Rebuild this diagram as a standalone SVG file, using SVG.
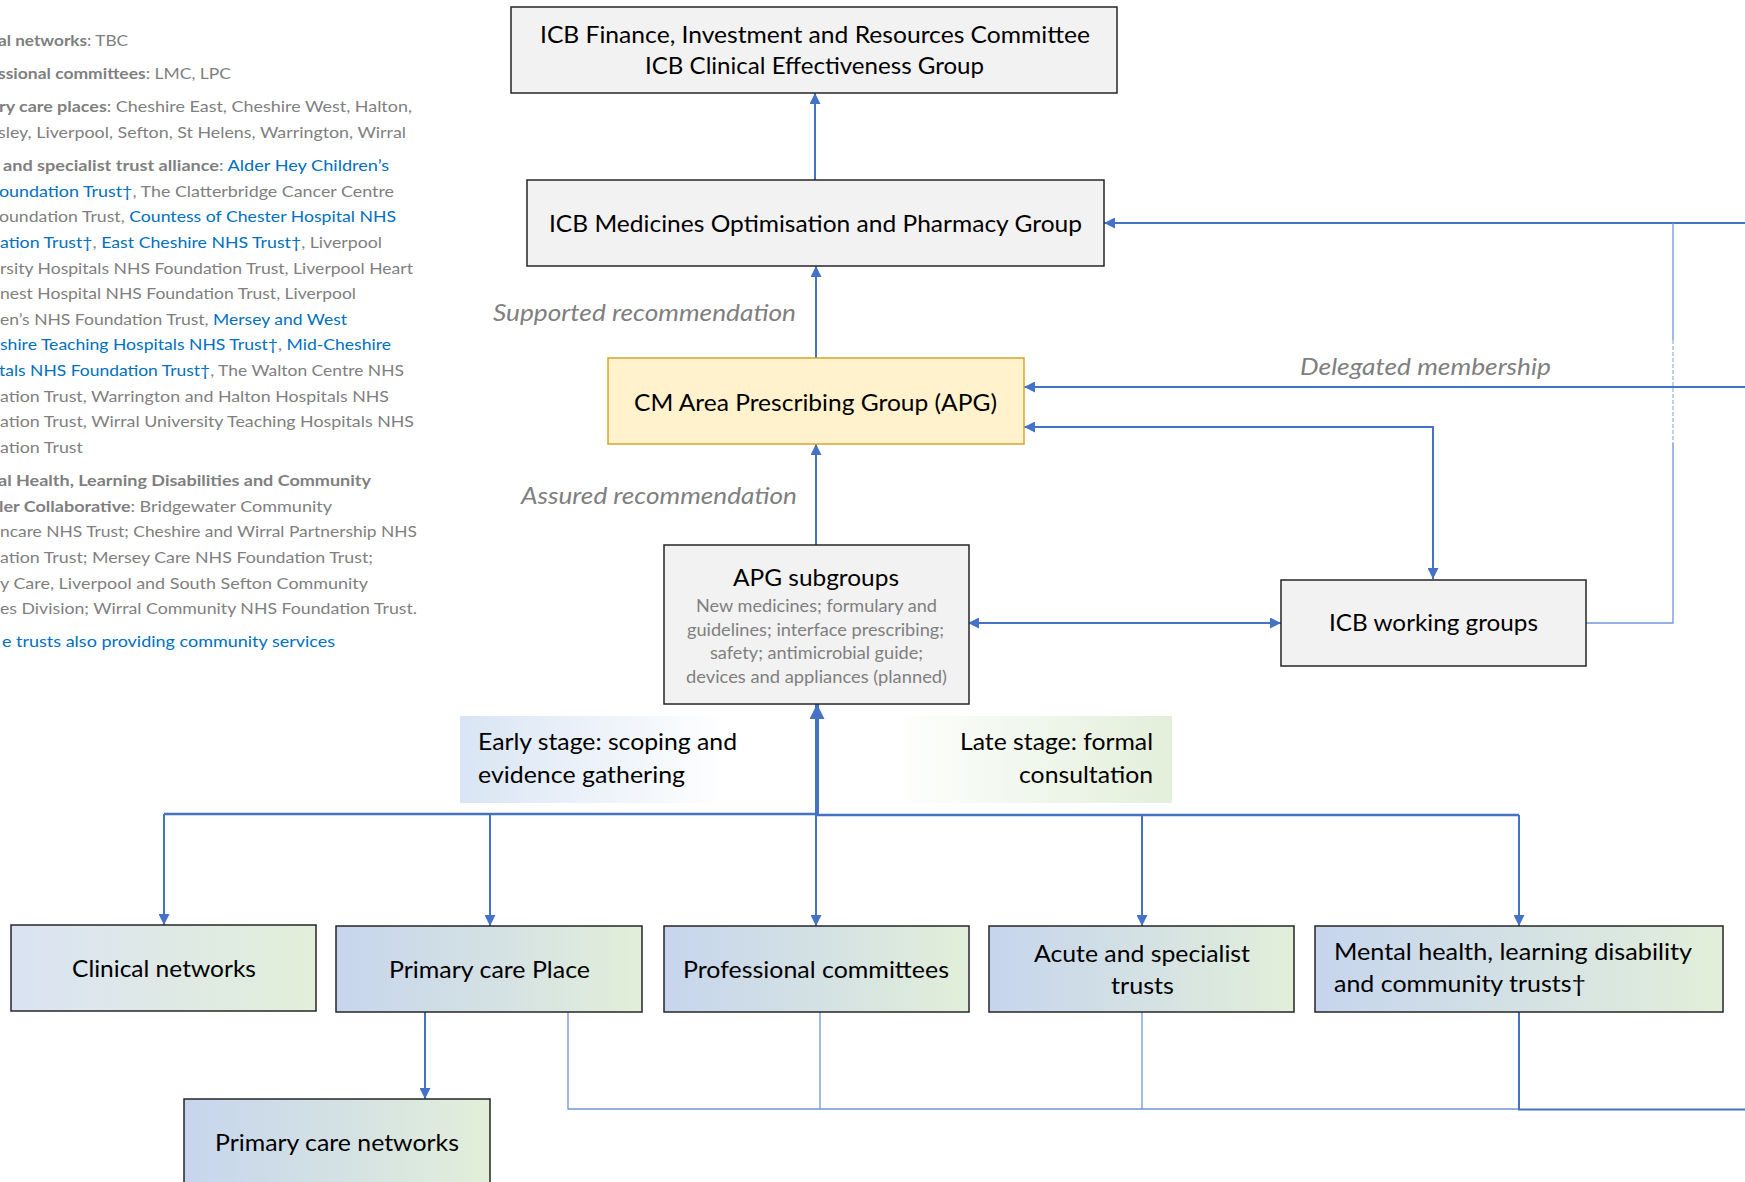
<svg xmlns="http://www.w3.org/2000/svg" width="1745" height="1182" viewBox="0 0 1745 1182">
<defs>
<style>
.lt{font-family:Lato,"Open Sans","Liberation Sans",sans-serif;font-size:16px;fill:#7f7f7f}
.b{font-weight:bold}
.bl{fill:#0070c0}
.nt{font-family:Lato,"Open Sans","Liberation Sans",sans-serif;font-size:24px;fill:#000}
.sub{font-family:Lato,"Open Sans","Liberation Sans",sans-serif;font-size:17px;fill:#7f7f7f}
.it{font-family:Lato,"Open Sans","Liberation Sans",sans-serif;font-size:24px;font-style:italic;fill:#7f7f7f}
.grey{fill:#f2f2f2;stroke:#262626;stroke-width:1.5}
.apg{fill:#fff2cc;stroke:#d6a72a;stroke-width:1.5}
.grad{fill:url(#gBG);stroke:#262626;stroke-width:1.5}
.gradL{fill:url(#gBGl);stroke:#262626;stroke-width:1.5}
.c{fill:none;stroke:#4472c4;stroke-width:2}
.ct{fill:none;stroke:#6f96d8;stroke-width:1.3}
.ck{fill:none;stroke:#4472c4;stroke-width:4}
.cb{fill:none;stroke:#4472c4;stroke-width:2.6}
</style>
<linearGradient id="gBG" x1="0" y1="0" x2="1" y2="0">
<stop offset="0" stop-color="#c6d5ed"/><stop offset="0.55" stop-color="#d5e2e3"/><stop offset="1" stop-color="#e2efd9"/>
</linearGradient>
<linearGradient id="gBGl" x1="0" y1="0" x2="1" y2="0">
<stop offset="0" stop-color="#dae3f3"/><stop offset="1" stop-color="#e2efd9"/>
</linearGradient>
<linearGradient id="gEarly" x1="0" y1="0" x2="1" y2="0">
<stop offset="0" stop-color="#d9e5f4"/><stop offset="0.75" stop-color="#ffffff"/>
</linearGradient>
<linearGradient id="gLate" x1="0" y1="0" x2="1" y2="0">
<stop offset="0.2" stop-color="#ffffff"/><stop offset="1" stop-color="#e2efda"/>
</linearGradient>
<marker id="arr" viewBox="0 0 10 10" refX="10" refY="5" markerUnits="userSpaceOnUse" markerWidth="12" markerHeight="11" orient="auto-start-reverse">
<path d="M0,0 L10,5 L0,10 z" fill="#4472c4"/>
</marker>
<marker id="arrB" viewBox="0 0 10 10" refX="10" refY="5" markerUnits="userSpaceOnUse" markerWidth="15" markerHeight="15" orient="auto">
<path d="M0,0 L10,5 L0,10 z" fill="#4472c4"/>
</marker>
</defs>
<rect width="1745" height="1182" fill="#ffffff"/>

<g id="legend">
<text class="lt" x="-2" y="46" textLength="130" lengthAdjust="spacingAndGlyphs"><tspan class="b">al networks</tspan>: TBC</text>
<text class="lt" x="-2" y="79" textLength="233" lengthAdjust="spacingAndGlyphs"><tspan class="b">ssional committees</tspan>: LMC, LPC</text>
<text class="lt" x="-1" y="112" textLength="413" lengthAdjust="spacingAndGlyphs"><tspan class="b">ry care places</tspan>: Cheshire East, Cheshire West, Halton,</text>
<text class="lt" x="-2" y="138" textLength="408" lengthAdjust="spacingAndGlyphs">sley, Liverpool, Sefton, St Helens, Warrington, Wirral</text>
<text class="lt" x="3" y="171" textLength="386" lengthAdjust="spacingAndGlyphs"><tspan class="b">and specialist trust alliance</tspan>: <tspan class="bl">Alder Hey Children’s</tspan></text>
<text class="lt" x="-1" y="197" textLength="395" lengthAdjust="spacingAndGlyphs"><tspan class="bl">oundation Trust†</tspan>, The Clatterbridge Cancer Centre</text>
<text class="lt" x="-1" y="222" textLength="397" lengthAdjust="spacingAndGlyphs">oundation Trust, <tspan class="bl">Countess of Chester Hospital NHS</tspan></text>
<text class="lt" x="0" y="248" textLength="382" lengthAdjust="spacingAndGlyphs"><tspan class="bl">ation Trust†</tspan>, <tspan class="bl">East Cheshire NHS Trust†</tspan>, Liverpool</text>
<text class="lt" x="0" y="274" textLength="413" lengthAdjust="spacingAndGlyphs">rsity Hospitals NHS Foundation Trust, Liverpool Heart</text>
<text class="lt" x="0" y="299" textLength="356" lengthAdjust="spacingAndGlyphs">nest Hospital NHS Foundation Trust, Liverpool</text>
<text class="lt" x="0" y="325" textLength="347" lengthAdjust="spacingAndGlyphs">en’s NHS Foundation Trust, <tspan class="bl">Mersey and West</tspan></text>
<text class="lt" x="0" y="350" textLength="391" lengthAdjust="spacingAndGlyphs"><tspan class="bl">shire Teaching Hospitals NHS Trust†</tspan>, <tspan class="bl">Mid-Cheshire</tspan></text>
<text class="lt" x="-1" y="376" textLength="405" lengthAdjust="spacingAndGlyphs"><tspan class="bl">tals NHS Foundation Trust†</tspan>, The Walton Centre NHS</text>
<text class="lt" x="0" y="402" textLength="389" lengthAdjust="spacingAndGlyphs">ation Trust, Warrington and Halton Hospitals NHS</text>
<text class="lt" x="0" y="427" textLength="414" lengthAdjust="spacingAndGlyphs">ation Trust, Wirral University Teaching Hospitals NHS</text>
<text class="lt" x="0" y="453" textLength="83" lengthAdjust="spacingAndGlyphs">ation Trust</text>
<text class="lt b" x="-2" y="486" textLength="373" lengthAdjust="spacingAndGlyphs">al Health, Learning Disabilities and Community</text>
<text class="lt" x="-1" y="512" textLength="333" lengthAdjust="spacingAndGlyphs"><tspan class="b">ler Collaborative</tspan>: Bridgewater Community</text>
<text class="lt" x="0" y="537" textLength="417" lengthAdjust="spacingAndGlyphs">ncare NHS Trust; Cheshire and Wirral Partnership NHS</text>
<text class="lt" x="0" y="563" textLength="373" lengthAdjust="spacingAndGlyphs">ation Trust; Mersey Care NHS Foundation Trust;</text>
<text class="lt" x="0" y="589" textLength="368" lengthAdjust="spacingAndGlyphs">y Care, Liverpool and South Sefton Community</text>
<text class="lt" x="0" y="614" textLength="417" lengthAdjust="spacingAndGlyphs">es Division; Wirral Community NHS Foundation Trust.</text>
<text class="lt bl" x="2" y="647" textLength="333" lengthAdjust="spacingAndGlyphs">e trusts also providing community services</text>
</g>

<g id="stage-panels">
<rect x="460" y="716" width="358" height="87" fill="url(#gEarly)"/>
<rect x="818" y="716" width="354" height="87" fill="url(#gLate)"/>
<text class="nt" x="478" y="750" textLength="259" lengthAdjust="spacingAndGlyphs">Early stage: scoping and</text>
<text class="nt" x="478" y="783" textLength="207" lengthAdjust="spacingAndGlyphs">evidence gathering</text>
<text class="nt" x="960" y="750" textLength="193" lengthAdjust="spacingAndGlyphs">Late stage: formal</text>
<text class="nt" x="1019" y="783" textLength="134" lengthAdjust="spacingAndGlyphs">consultation</text>
</g>

<g id="connectors">
<path class="c" d="M815,180 V93" marker-end="url(#arr)"/>
<path class="c" d="M816,358 V266" marker-end="url(#arr)"/>
<path class="c" d="M816,545 V444" marker-end="url(#arr)"/>
<path class="c" d="M1745,223 H1104" marker-end="url(#arr)"/>
<path class="ct" d="M1586,623 H1673 V443"/>
<path class="ct" d="M1673,340 V223"/>
<path d="M1673,340 V443" fill="none" stroke="#9db8e6" stroke-width="1.3" stroke-dasharray="4 2"/>
<path class="c" d="M1745,387 H1024" marker-end="url(#arr)"/>
<path class="c" d="M1024,427 H1433 V579" marker-start="url(#arr)" marker-end="url(#arr)"/>
<path class="c" d="M968,623 H1281" marker-start="url(#arr)" marker-end="url(#arr)"/>
<path class="ck" d="M817,816 V704" marker-end="url(#arrB)"/>
<path class="cb" d="M164,814 H817"/>
<path class="cb" d="M816,815 H1519"/>
<path class="c" d="M164,814 V925" marker-end="url(#arr)"/>
<path class="c" d="M490,814 V926" marker-end="url(#arr)"/>
<path class="c" d="M816,815 V926" marker-end="url(#arr)"/>
<path class="c" d="M1142,815 V926" marker-end="url(#arr)"/>
<path class="c" d="M1519,815 V926" marker-end="url(#arr)"/>
<path class="c" d="M425,1012 V1099" marker-end="url(#arr)"/>
<path class="ct" d="M568,1012 V1109 H1519"/>
<path class="ct" d="M820,1012 V1109"/>
<path class="ct" d="M1142,1012 V1109"/>
<path class="c" d="M1519,1012 V1109.5 H1745"/>
</g>

<g id="label-supported"><text class="it" x="493" y="321" textLength="303" lengthAdjust="spacingAndGlyphs">Supported recommendation</text></g>
<g id="label-assured"><text class="it" x="521" y="504" textLength="276" lengthAdjust="spacingAndGlyphs">Assured recommendation</text></g>
<g id="label-delegated"><text class="it" x="1300" y="375" textLength="251" lengthAdjust="spacingAndGlyphs">Delegated membership</text></g>

<g id="icb-finance">
<rect class="grey" x="511" y="7" width="606" height="86"/>
<text class="nt" x="540" y="43" textLength="550" lengthAdjust="spacingAndGlyphs">ICB Finance, Investment and Resources Committee</text>
<text class="nt" x="645" y="74" textLength="339" lengthAdjust="spacingAndGlyphs">ICB Clinical Effectiveness Group</text>
</g>
<g id="icb-medicines">
<rect class="grey" x="527" y="180" width="577" height="86"/>
<text class="nt" x="549" y="232" textLength="533" lengthAdjust="spacingAndGlyphs">ICB Medicines Optimisation and Pharmacy Group</text>
</g>
<g id="apg">
<rect class="apg" x="608" y="358" width="416" height="86"/>
<text class="nt" x="634" y="411" textLength="363" lengthAdjust="spacingAndGlyphs">CM Area Prescribing Group (APG)</text>
</g>
<g id="apg-subgroups">
<rect class="grey" x="664" y="545" width="305" height="159"/>
<text class="nt" x="733" y="586" textLength="166" lengthAdjust="spacingAndGlyphs">APG subgroups</text>
<text class="sub" x="696" y="612" textLength="241" lengthAdjust="spacingAndGlyphs">New medicines; formulary and</text>
<text class="sub" x="687" y="636" textLength="257" lengthAdjust="spacingAndGlyphs">guidelines; interface prescribing;</text>
<text class="sub" x="710" y="659" textLength="213" lengthAdjust="spacingAndGlyphs">safety; antimicrobial guide;</text>
<text class="sub" x="686" y="683" textLength="261" lengthAdjust="spacingAndGlyphs">devices and appliances (planned)</text>
</g>
<g id="icb-working-groups">
<rect class="grey" x="1281" y="580" width="305" height="86"/>
<text class="nt" x="1329" y="631" textLength="209" lengthAdjust="spacingAndGlyphs">ICB working groups</text>
</g>
<g id="clinical-networks">
<rect class="gradL" x="11" y="925" width="305" height="86"/>
<text class="nt" x="72" y="977" textLength="184" lengthAdjust="spacingAndGlyphs">Clinical networks</text>
</g>
<g id="primary-care-place">
<rect class="grad" x="336" y="926" width="306" height="86"/>
<text class="nt" x="389" y="978" textLength="201" lengthAdjust="spacingAndGlyphs">Primary care Place</text>
</g>
<g id="professional-committees">
<rect class="grad" x="664" y="926" width="305" height="86"/>
<text class="nt" x="683" y="978" textLength="266" lengthAdjust="spacingAndGlyphs">Professional committees</text>
</g>
<g id="acute-trusts">
<rect class="grad" x="989" y="926" width="305" height="86"/>
<text class="nt" x="1034" y="962" textLength="216" lengthAdjust="spacingAndGlyphs">Acute and specialist</text>
<text class="nt" x="1111" y="994" textLength="63" lengthAdjust="spacingAndGlyphs">trusts</text>
</g>
<g id="mental-health-trusts">
<rect class="grad" x="1315" y="926" width="408" height="86"/>
<text class="nt" x="1334" y="960" textLength="358" lengthAdjust="spacingAndGlyphs">Mental health, learning disability</text>
<text class="nt" x="1334" y="992" textLength="252" lengthAdjust="spacingAndGlyphs">and community trusts†</text>
</g>
<g id="primary-care-networks">
<rect class="grad" x="184" y="1099" width="306" height="86"/>
<text class="nt" x="215" y="1151" textLength="244" lengthAdjust="spacingAndGlyphs">Primary care networks</text>
</g>
</svg>
